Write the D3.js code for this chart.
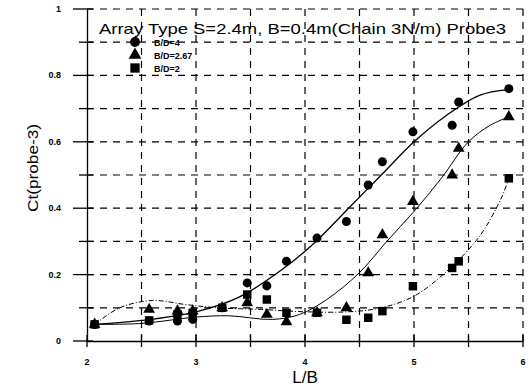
<!DOCTYPE html>
<html><head><meta charset="utf-8">
<script src="https://cdn.jsdelivr.net/npm/d3@7"></script>
<style>body{margin:0;background:#fff}svg{display:block}</style>
</head><body>
<script>
const titleText = "Array Type S=2.4m, B=0.4m(Chain 3N/m) Probe3";
const xLabel = "L/B";
const yLabel = "Ct(probe-3)";
const xTicks = [2, 3, 4, 5, 6];
const yTicks = [0, 0.2, 0.4, 0.6, 0.8, 1];
const yTickLabels = ["0", "0.2", "0.4", "0.6", "0.8", "1"];
const seriesNames = ["B/D=4", "B/D=2.67", "B/D=2"];

const xs = [2.07, 2.57, 2.83, 2.97, 3.24, 3.47, 3.65, 3.83, 4.11, 4.38, 4.58, 4.71, 4.99, 5.35, 5.41, 5.87];
const bd4   = [0.05, 0.06, 0.06, 0.065, 0.10, 0.175, 0.166, 0.24, 0.31, 0.36, 0.47, 0.54, 0.63, 0.65, 0.72, 0.76];
const bd267 = [0.05, 0.095, 0.09, 0.09, 0.10, 0.115, 0.08, 0.058, 0.085, 0.10, 0.205, 0.32, 0.42, 0.50, 0.58, 0.675];
const bd2   = [0.05, 0.062, 0.08, 0.085, 0.10, 0.14, 0.125, 0.085, 0.085, 0.064, 0.07, 0.09, 0.165, 0.22, 0.24, 0.49];

// fitted curves
const fit4x   = [2.07, 2.5, 3.0, 3.4, 3.83, 4.1, 4.4, 4.7, 5.0, 5.3, 5.6, 5.87];
const fit4y   = [0.05, 0.062, 0.088, 0.133, 0.225, 0.30, 0.40, 0.50, 0.60, 0.68, 0.74, 0.757];
const fit267x = [2.07, 2.5, 3.0, 3.3, 3.7, 3.95, 4.2, 4.5, 4.75, 5.0, 5.25, 5.5, 5.7, 5.87];
const fit267y = [0.05, 0.053, 0.072, 0.076, 0.065, 0.08, 0.125, 0.206, 0.30, 0.39, 0.49, 0.60, 0.65, 0.675];
const fit2x   = [2.07, 2.3, 2.6, 2.9, 3.2, 3.6, 4.0, 4.4, 4.7, 5.0, 5.3, 5.6, 5.8, 5.87];
const fit2y   = [0.05, 0.10, 0.122, 0.11, 0.10, 0.095, 0.088, 0.088, 0.10, 0.135, 0.21, 0.315, 0.43, 0.49];

const W = 531, H = 391;
const FONT = "Arial, Liberation Sans, sans-serif";
const svg = d3.select("body").append("svg").attr("width", W).attr("height", H);
const x = d3.scaleLinear().domain([2, 6]).range([87, 523]);
const y = d3.scaleLinear().domain([0, 1]).range([341, 9]);

// grid
const gx = d3.range(2.5, 6.01, 0.5);
const gy = d3.range(0.1, 1.001, 0.1);
svg.append("g").selectAll("line").data(gx).join("line")
  .attr("x1", d => x(d)).attr("x2", d => x(d)).attr("y1", y(1)).attr("y2", y(0))
  .attr("stroke", "#000").attr("stroke-width", 1.2).attr("stroke-dasharray", "7,6");
svg.append("g").selectAll("line").data(gy).join("line")
  .attr("x1", x(2)).attr("x2", x(6)).attr("y1", d => y(d)).attr("y2", d => y(d))
  .attr("stroke", "#000").attr("stroke-width", 1.2).attr("stroke-dasharray", "7,6");

// axes
const xAxis = d3.axisBottom(x).tickValues(d3.range(2, 6.01, 0.5)).tickSize(0).tickFormat("");
const gX = svg.append("g").attr("transform", `translate(0,${y(0)})`).call(xAxis);
gX.select(".domain").attr("stroke", "#000").attr("stroke-width", 1.3);
svg.append("g").selectAll("line").data(d3.range(2, 6.01, 0.5)).join("line")
  .attr("x1", d => x(d)).attr("x2", d => x(d)).attr("y1", y(0) - 6).attr("y2", y(0) + 6)
  .attr("stroke", "#000").attr("stroke-width", 1.3);
svg.append("g").selectAll("text").data(xTicks).join("text")
  .attr("x", d => x(d)).attr("y", 365).attr("text-anchor", "middle")
  .attr("font-family", FONT).attr("font-size", 9).attr("font-weight", "bold")
  .text(d => d);

const yAxis = d3.axisLeft(y).tickValues([]).tickSize(0);
const gY = svg.append("g").attr("transform", `translate(${x(2)},0)`).call(yAxis);
gY.select(".domain").attr("stroke", "#000").attr("stroke-width", 1.3);
svg.append("g").selectAll("line").data(d3.range(0, 1.001, 0.1)).join("line")
  .attr("x1", (d, i) => x(2) - (i % 2 === 0 ? 14 : 8)).attr("x2", x(2) + 6)
  .attr("y1", d => y(d)).attr("y2", d => y(d))
  .attr("stroke", "#000").attr("stroke-width", 1.3);
svg.append("g").selectAll("text").data(yTicks).join("text")
  .attr("x", 61).attr("y", d => y(d) + 3).attr("text-anchor", "end")
  .attr("font-family", FONT).attr("font-size", 9).attr("font-weight", "bold")
  .text((d, i) => yTickLabels[i]);

// axis titles
svg.append("text").attr("x", x(4)).attr("y", 383).attr("text-anchor", "middle")
  .attr("font-family", FONT).attr("font-size", 17).text(xLabel);
svg.append("text").attr("transform", "translate(38,168) rotate(-90)").attr("text-anchor", "middle")
  .attr("font-family", FONT).attr("font-size", 14)
  .attr("textLength", 88).attr("lengthAdjust", "spacingAndGlyphs").text(yLabel);

// title
svg.append("text").attr("x", 99).attr("y", 34)
  .attr("font-family", FONT).attr("font-size", 15)
  .attr("textLength", 407).attr("lengthAdjust", "spacingAndGlyphs").text(titleText);

// curves
const line = d3.line().x(d => x(d[0])).y(d => y(d[1])).curve(d3.curveCatmullRom.alpha(0.5));
const curves = [
  {xs: fit4x, ys: fit4y, dash: null, w: 1.3},
  {xs: fit267x, ys: fit267y, dash: null, w: 1},
  {xs: fit2x, ys: fit2y, dash: "5,2,1,2", w: 1}
];
curves.forEach(c => {
  svg.append("path").datum(c.xs.map((v, i) => [v, c.ys[i]])).attr("d", line)
    .attr("fill", "none").attr("stroke", "#000").attr("stroke-width", c.w)
    .attr("stroke-dasharray", c.dash);
});

// markers
const sym = [d3.symbolCircle, d3.symbolTriangle, d3.symbolSquare];
const sizes = [64, 60, 72];
const series = [bd4, bd267, bd2];
series.forEach((vals, k) => {
  svg.append("g").selectAll("path").data(xs.map((v, i) => [v, vals[i]])).join("path")
    .attr("transform", d => `translate(${x(d[0])},${y(d[1])})`)
    .attr("d", d3.symbol().type(sym[k]).size(sizes[k])).attr("fill", "#000");
});

// legend
const ly = [42, 55, 68];
seriesNames.forEach((n, k) => {
  svg.append("path").attr("transform", `translate(135,${ly[k]})`)
    .attr("d", d3.symbol().type(sym[k]).size(sizes[k] * 1.2)).attr("fill", "#000");
  svg.append("text").attr("x", 154).attr("y", ly[k] + 3.5)
    .attr("font-family", FONT).attr("font-size", 9).attr("font-weight", "bold")
    .text(n);
});
</script>
</body></html>
